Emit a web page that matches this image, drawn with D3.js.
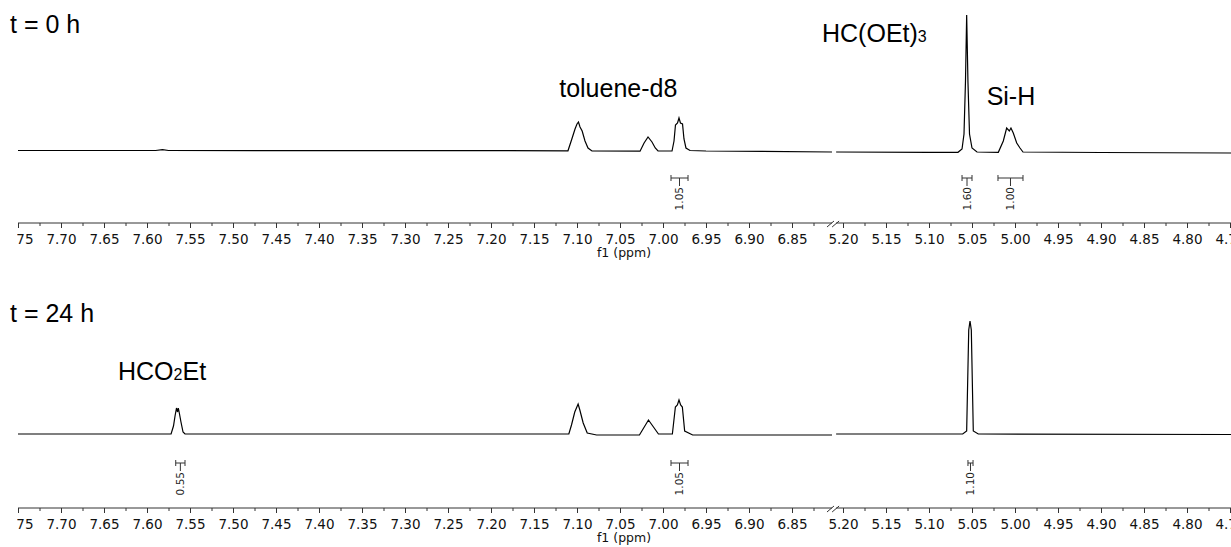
<!DOCTYPE html>
<html>
<head>
<meta charset="utf-8">
<script src="https://cdn.jsdelivr.net/npm/d3@7"></script>
<style>
    body { margin: 0; background: #fff; }
    svg { display: block; }
</style>
</head>
<body>
<script>
// Two 1H NMR spectra (t = 0 h and t = 24 h) drawn on a broken ppm axis.

// ---- data -----------------------------------------------------------------
// each spectrum segment is a list of [ppm, intensity] points
var spec0Left = [
    [7.75, 1.5], [7.59, 1.5], [7.582, 2.3], [7.575, 1.5], [7.20, 1.3],
    [7.1105, 1.2], [7.106, 13], [7.1023, 23], [7.100, 28], [7.0983, 30],
    [7.0965, 25], [7.094, 21], [7.0907, 11], [7.0872, 4], [7.0826, 1],
    [7.0267, 0.8], [7.022, 9], [7.0174, 15], [7.0128, 10], [7.009, 4],
    [7.0058, 1], [6.9895, 1], [6.9872, 11], [6.9855, 27], [6.9831, 29],
    [6.9814, 34], [6.9797, 29], [6.9773, 28], [6.9756, 13], [6.9733, 4],
    [6.9686, 1.5], [6.95, 1], [6.8035, 0]
];
var spec0Right = [
    [5.208, 0], [5.10, -0.3], [5.0663, -0.3], [5.0616, 3], [5.0593, 18],
    [5.0576, 70], [5.0562, 137], [5.0547, 70], [5.0529, 18], [5.05, 4],
    [5.0442, 0], [5.0194, -0.3], [5.0136, 11], [5.0097, 24], [5.0066, 21],
    [5.0047, 24], [5.002, 19], [4.998, 9], [4.9942, 4], [4.9907, 0],
    [4.90, -0.5], [4.745, -1]
];
var spec24Left = [
    [7.75, 0], [7.572, 0], [7.5692, 8], [7.5674, 18], [7.5657, 26],
    [7.5645, 22], [7.5636, 26], [7.5622, 20], [7.5605, 12], [7.5581, 2],
    [7.5558, 0], [7.1095, 0], [7.1064, 9], [7.1026, 22], [7.0987, 30],
    [7.0967, 24], [7.0928, 11], [7.0881, 1], [7.0772, -1], [7.0274, -1],
    [7.0169, 14], [7.0053, 0], [6.9891, 0], [6.9856, 27], [6.9833, 29],
    [6.9814, 34], [6.9795, 29], [6.9775, 27], [6.9748, 3], [6.9655, -1],
    [6.8035, -1]
];
var spec24Right = [
    [5.208, 0], [5.10, 0], [5.0608, 0], [5.0562, 3], [5.0538, 104],
    [5.0523, 113], [5.0508, 104], [5.0485, 3], [5.0427, 0], [4.745, -0.5]
];

// integrals: [from ppm, to ppm, value]
var integrals0 = [[6.9907, 6.9709, "1.05"], [5.0616, 5.05, "1.60"],
                  [5.0198, 4.9907, "1.00"]];
var integrals24 = [[7.5666, 7.5558, "0.55"], [6.9907, 6.9709, "1.05"],
                   [5.0547, 5.0488, "1.10"]];

// axis ticks for the two pieces of the broken axis
var leftMajor = d3.range(0, 19).map(function (i) { return 7.75 - i * 0.05; });
var leftMinor = d3.range(0, 19).map(function (i) { return 7.725 - i * 0.05; });
var rightMajor = d3.range(0, 10).map(function (i) { return 5.20 - i * 0.05; });
var rightMinor = d3.range(0, 9).map(function (i) { return 5.175 - i * 0.05; });

// ---- layout ---------------------------------------------------------------
var width = 1231, height = 547;

var svg = d3.select("body").append("svg")
    .attr("width", width)
    .attr("height", height);

var xLeft = d3.scaleLinear().domain([7.75, 6.80]).range([18, 835]);
var xRight = d3.scaleLinear().domain([5.20, 4.75]).range([843, 1230]);

var labelFont = "'Liberation Sans', Arial, sans-serif";
var axisFont = "'DejaVu Sans', Verdana, sans-serif";

svg.append("defs").append("clipPath")
    .attr("id", "leftclip")
    .append("rect")
    .attr("x", 17).attr("y", 0)
    .attr("width", width).attr("height", height);

function drawPanel(p) {
    var y = d3.scaleLinear().domain([0, 140]).range([p.base, p.base - 140]);
    var g = svg.append("g");

    var line = function (sc) {
        return d3.line()
            .x(function (d) { return sc(d[0]); })
            .y(function (d) { return y(d[1]); });
    };

    g.append("path").datum(p.left)
        .attr("d", line(xLeft))
        .attr("fill", "none").attr("stroke", "#000")
        .attr("stroke-width", 1.2);
    g.append("path").datum(p.right)
        .attr("d", line(xRight))
        .attr("fill", "none").attr("stroke", "#000")
        .attr("stroke-width", 1.2);

    // integral brackets with rotated values underneath
    p.integrals.forEach(function (d) {
        var sc = d[0] > 6 ? xLeft : xRight;
        var x1 = sc(d[0]), x2 = sc(d[1]), xm = (x1 + x2) / 2;
        var ig = g.append("g").attr("stroke", "#333").attr("stroke-width", 1);
        ig.append("line").attr("x1", x1).attr("x2", x2)
            .attr("y1", p.intY).attr("y2", p.intY);
        ig.append("line").attr("x1", x1).attr("x2", x1)
            .attr("y1", p.intY - 3).attr("y2", p.intY + 3);
        ig.append("line").attr("x1", x2).attr("x2", x2)
            .attr("y1", p.intY - 3).attr("y2", p.intY + 3);
        ig.append("line").attr("x1", xm).attr("x2", xm)
            .attr("y1", p.intY).attr("y2", p.intY + 8);
        g.append("text")
            .attr("transform", "translate(" + xm + "," + (p.intY + 9) +
                  ") rotate(-90)")
            .attr("text-anchor", "end")
            .attr("dy", "0.36em")
            .attr("font-family", axisFont)
            .attr("font-size", "10.5px")
            .attr("fill", "#222")
            .text(d[2]);
    });

    // broken x axis
    var ax = g.append("g").attr("transform", "translate(0," + p.axisY + ")");
    ax.append("line")
        .attr("x1", xLeft(7.75)).attr("x2", xLeft(6.8035))
        .attr("stroke", "#333");
    ax.append("line")
        .attr("x1", xRight(5.208)).attr("x2", width)
        .attr("stroke", "#333");

    var pieces = [[xLeft, leftMajor, leftMinor], [xRight, rightMajor, rightMinor]];
    pieces.forEach(function (pc) {
        var major = ax.append("g")
            .attr("clip-path", "url(#leftclip)")
            .call(d3.axisBottom(pc[0]).tickValues(pc[1])
                .tickSize(5).tickPadding(6)
                .tickFormat(d3.format(".2f")));
        var minor = ax.append("g")
            .call(d3.axisBottom(pc[0]).tickValues(pc[2])
                .tickSize(3).tickFormat(""));
        [major, minor].forEach(function (a) {
            a.select(".domain").remove();
            a.selectAll("line").attr("stroke", "#333");
        });
        major.selectAll("text")
            .attr("font-family", axisFont)
            .attr("font-size", "13.5px")
            .attr("fill", "#111");
    });

    // break marks
    [xLeft(6.8035) - 2, xRight(5.208) - 1].forEach(function (bx) {
        ax.append("line")
            .attr("x1", bx - 3).attr("y1", 4)
            .attr("x2", bx + 4).attr("y2", -2)
            .attr("stroke", "#333");
    });

    g.append("text")
        .attr("x", (xLeft(7.75) + xRight(4.75)) / 2)
        .attr("y", p.axisY + 34)
        .attr("text-anchor", "middle")
        .attr("font-family", axisFont)
        .attr("font-size", "12.5px")
        .attr("fill", "#111")
        .text("f1 (ppm)");

    g.append("text")
        .attr("x", 10).attr("y", p.titleY)
        .attr("font-family", labelFont)
        .attr("font-size", "25px")
        .text(p.title);
    return g;
}

var top0 = drawPanel({
    left: spec0Left, right: spec0Right, integrals: integrals0,
    base: 152, intY: 178, axisY: 223, titleY: 33, title: "t = 0 h"
});
var bot24 = drawPanel({
    left: spec24Left, right: spec24Right, integrals: integrals24,
    base: 434, intY: 463, axisY: 508, titleY: 322, title: "t = 24 h"
});

// peak annotations
top0.append("text")
    .attr("x", xLeft(7.052)).attr("y", 97)
    .attr("text-anchor", "middle")
    .attr("font-family", labelFont).attr("font-size", "25px")
    .text("toluene-d8");

var hc = top0.append("text")
    .attr("x", 822).attr("y", 42)
    .attr("font-family", labelFont).attr("font-size", "25px");
hc.append("tspan").text("HC(OEt)");
hc.append("tspan").attr("font-size", "16px").text("3");

top0.append("text")
    .attr("x", xRight(5.0047)).attr("y", 105)
    .attr("text-anchor", "middle")
    .attr("font-family", labelFont).attr("font-size", "25px")
    .text("Si-H");

var hco = bot24.append("text")
    .attr("x", 118).attr("y", 380)
    .attr("font-family", labelFont).attr("font-size", "25px");
hco.append("tspan").text("HCO");
hco.append("tspan").attr("font-size", "16px").text("2");
hco.append("tspan").text("Et");
</script>
</body>
</html>
